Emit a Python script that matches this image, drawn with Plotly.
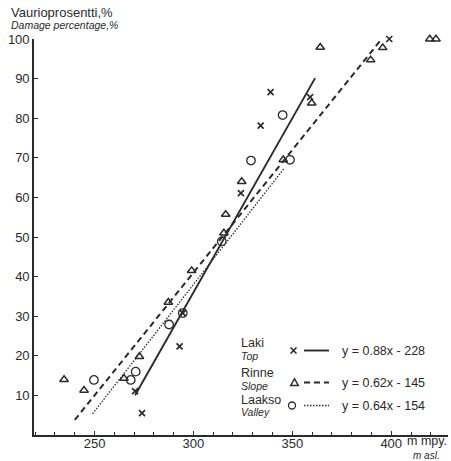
import plotly.graph_objects as go

# Observations: altitude (m a.s.l.) vs damage percentage
laki_x = [274, 270.5, 293, 294.6, 324, 334, 339, 359, 399]
laki_y = [5.5, 11.1, 22.4, 30.8, 61.1, 78.1, 86.6, 85.3, 100]

rinne_x = [234.6, 244.7, 264.9, 272.7, 287.3, 299.1, 315.4, 316.3, 324.4,
           345.4, 359.8, 364.1, 389.6, 395.7, 419.5, 422.6]
rinne_y = [14.0, 11.3, 14.3, 19.8, 33.5, 41.5, 51.0, 55.7, 64.0,
           69.5, 83.8, 97.9, 94.7, 97.8, 100, 100]

laakso_x = [249.7, 268.3, 270.8, 287.7, 294.6, 314.3, 329.1, 345.1, 348.8]
laakso_y = [13.9, 13.9, 16.0, 27.9, 30.8, 48.9, 69.3, 80.8, 69.5]

# Regression lines: (slope, intercept, x-start, x-end)
fits = {
    "Laki":   (0.88, -228, 270.5, 361.5),
    "Rinne":  (0.62, -145, 240.0, 394.5),
    "Laakso": (0.64, -154, 249.0, 346.0),
}
equations = ["y = 0.88x - 228", "y = 0.62x - 145", "y = 0.64x - 154"]
names_fi = ["Laki", "Rinne", "Laakso"]
names_en = ["Top", "Slope", "Valley"]

x_ticks = [250, 300, 350, 400]
y_ticks = [10, 20, 30, 40, 50, 60, 70, 80, 90, 100]

INK = "#2a2a2a"
FONT = "Liberation Sans, Arial, sans-serif"
W, H = 451, 461
ML, MR, MT, MB = 34, 3, 39, 26

line_styles = {
    "Laki": dict(width=1.9, dash="solid"),
    "Rinne": dict(width=2.0, dash="6px,4px"),
    "Laakso": dict(width=1.3, dash="1.5px,1.5px"),
}

fig = go.Figure()

for name, (a, b, x0, x1) in fits.items():
    fig.add_trace(go.Scatter(
        x=[x0, x1], y=[a * x0 + b, a * x1 + b], mode="lines",
        line=dict(color=INK, **line_styles[name]), showlegend=False,
        hoverinfo="skip", cliponaxis=False))

fig.add_trace(go.Scatter(
    x=rinne_x, y=rinne_y, mode="markers", showlegend=False, cliponaxis=False,
    marker=dict(symbol="triangle-up-open", size=7.5, color=INK,
                line=dict(width=1.5, color=INK))))
fig.add_trace(go.Scatter(
    x=laakso_x, y=laakso_y, mode="markers", showlegend=False, cliponaxis=False,
    marker=dict(symbol="circle-open", size=8.5, color=INK,
                line=dict(width=1.3, color=INK))))
fig.add_trace(go.Scatter(
    x=laki_x, y=laki_y, mode="markers", showlegend=False, cliponaxis=False,
    marker=dict(symbol="x-thin-open", size=6, color=INK,
                line=dict(width=1.7, color=INK))))


def px(xp):
    return (xp - ML) / (W - ML - MR)


def py(yp):
    return (H - MB - yp) / (H - MT - MB)


def label(text, xp, yp, size, anchor="left"):
    return dict(text=text, x=px(xp), y=py(yp), xref="paper", yref="paper",
                xanchor=anchor, yanchor="middle", showarrow=False,
                font=dict(size=size, color=INK, family=FONT))


annotations = [
    label("Vaurioprosentti,%", 9, 12.5, 13),
    label("<i>Damage percentage,%</i>", 9, 25.5, 10.5),
    label("m mpy.", 449, 441, 12.5, "right"),
    label("<i>m asl.</i>", 442, 455, 10, "right"),
]

shapes = []
row_name_y = [342.5, 372.5, 400]
row_sub_y = [356, 385.5, 412]
row_sym_y = [350.5, 382.5, 405.5]
for i, key in enumerate(names_fi):
    annotations.append(label(key, 239, row_name_y[i], 12.5))
    annotations.append(label(f"<i>{names_en[i]}</i>", 239, row_sub_y[i], 10.5))
    annotations.append(label(equations[i], 340, row_sym_y[i], 12.5))
    st = line_styles[key]
    shapes.append(dict(
        type="line", xref="paper", yref="paper",
        x0=px(304), x1=px(329), y0=py(row_sym_y[i]), y1=py(row_sym_y[i]),
        line=dict(color=INK, width=st["width"], dash=st["dash"])))

# legend symbols
sx, sy = px(293.5), py(row_sym_y[0])
shapes.append(dict(type="path", xref="paper", yref="paper",
                   xsizemode="pixel", ysizemode="pixel", xanchor=sx, yanchor=sy,
                   path="M-3,-3 L3,3 M-3,3 L3,-3",
                   line=dict(color=INK, width=1.6)))
sx, sy = px(294.5), py(row_sym_y[1])
shapes.append(dict(type="path", xref="paper", yref="paper",
                   xsizemode="pixel", ysizemode="pixel", xanchor=sx, yanchor=sy,
                   path="M-3.8,-3 L3.8,-3 L0,3.8 Z",
                   line=dict(color=INK, width=1.5)))
sx, sy = px(292), py(row_sym_y[2])
shapes.append(dict(type="circle", xref="paper", yref="paper",
                   xsizemode="pixel", ysizemode="pixel", xanchor=sx, yanchor=sy,
                   x0=-3.5, x1=3.5, y0=-3.5, y1=3.5,
                   line=dict(color=INK, width=1.3)))

fig.update_layout(
    width=W, height=H,
    margin=dict(l=ML, r=MR, t=MT, b=MB),
    paper_bgcolor="white", plot_bgcolor="white",
    font=dict(family=FONT, color=INK, size=13),
    annotations=annotations, shapes=shapes,
    xaxis=dict(range=[219.4, 428.7], tickvals=x_ticks, ticks="inside",
               ticklen=4, tickwidth=1.2, tickcolor=INK,
               minor=dict(dtick=10, tick0=230, ticks="inside", ticklen=3,
                          tickcolor=INK, tickwidth=1.2),
               showline=True, linecolor=INK, linewidth=1.6,
               showgrid=False, zeroline=False, ticklabelstandoff=-4,
               tickfont=dict(size=13, color=INK, family=FONT)),
    yaxis=dict(range=[0, 100], tickvals=y_ticks, ticks="inside", ticklen=4,
               tickwidth=1.2, tickcolor=INK,
               showline=True, linecolor=INK, linewidth=1.6,
               showgrid=False, zeroline=False,
               tickfont=dict(size=13, color=INK, family=FONT)),
)

fig.write_html("out.html")
